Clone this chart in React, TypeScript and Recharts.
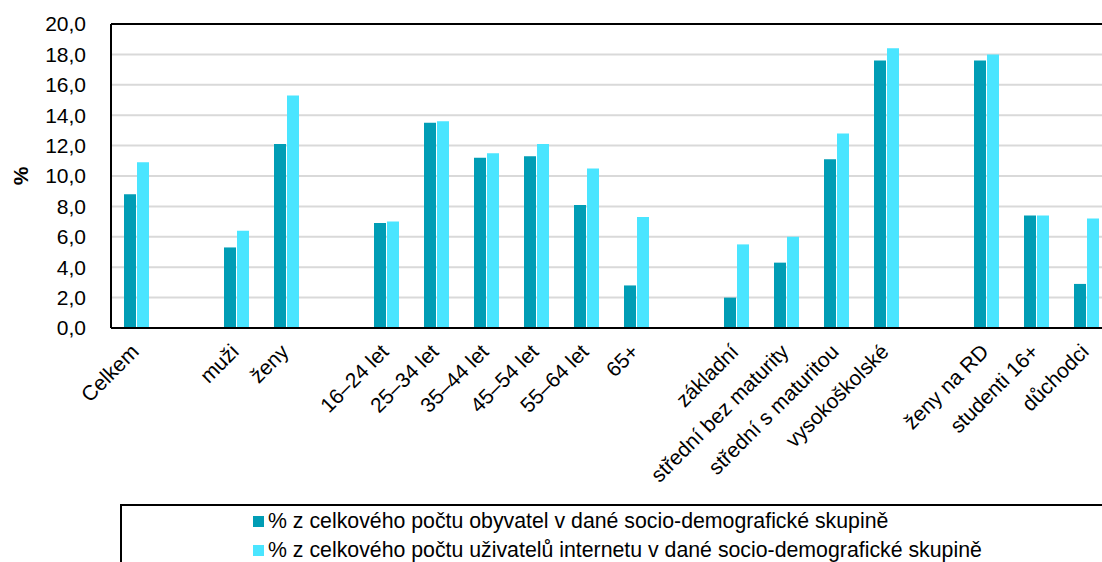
import React from 'react'
import { Bar, BarChart, CartesianGrid, ReferenceLine, XAxis, YAxis } from 'recharts'

const categories = [
  'Celkem', '', 'muži', 'ženy', '',
  '16–24 let', '25–34 let', '35–44 let', '45–54 let', '55–64 let', '65+', '',
  'základní', 'střední bez maturity', 'střední s maturitou', 'vysokoškolské', '',
  'ženy na RD', 'studenti 16+', 'důchodci',
]

const obyvatel = [
  8.8, null, 5.3, 12.1, null,
  6.9, 13.5, 11.2, 11.3, 8.1, 2.8, null,
  2.0, 4.3, 11.1, 17.6, null,
  17.6, 7.4, 2.9,
]

const uzivatele = [
  10.9, null, 6.4, 15.3, null,
  7.0, 13.6, 11.5, 12.1, 10.5, 7.3, null,
  5.5, 6.0, 12.8, 18.4, null,
  18.0, 7.4, 7.2,
]

const yTicks = [0, 2, 4, 6, 8, 10, 12, 14, 16, 18, 20]

const seriesNames = [
  '% z celkového počtu obyvatel v dané socio-demografické skupině',
  '% z celkového počtu uživatelů internetu v dané socio-demografické skupině',
]
const colors = ['#009db5', '#4ae5ff']

const font = 'Arial, "Liberation Sans", sans-serif'
const fs = 21

const data = categories.map((name, i) => ({
  key: 'c' + i,
  name,
  obyvatel: obyvatel[i],
  uzivatele: uzivatele[i],
}))

const XTick = (props: any) => {
  const { x, y, payload } = props
  const label = categories[payload.index] ?? ''
  const tx = x + 4
  const ty = y - 1
  return (
    <text
      x={tx}
      y={ty}
      textAnchor="end"
      fontSize={fs}
      fontFamily={font}
      fill="#000"
      transform={`rotate(-45 ${tx} ${ty})`}
    >
      {label}
    </text>
  )
}

const YLabel = (props: any) => {
  const vb = props.viewBox || {}
  const cx = 20
  const cy = (vb.y ?? 24) + (vb.height ?? 304) / 2
  return (
    <text
      x={cx}
      y={cy}
      textAnchor="middle"
      dominantBaseline="central"
      fontSize={fs}
      fontWeight="bold"
      fontFamily={font}
      fill="#000"
      transform={`rotate(-90 ${cx} ${cy})`}
    >
      %
    </text>
  )
}

const App = () => {
  return (
    <div style={{ position: 'fixed', left: 0, top: 0, width: 1102, height: 562, overflow: 'hidden', background: '#fff' }}>
      <BarChart
        width={1111}
        height={562}
        data={data}
        margin={{ top: 24, right: 0, left: 21, bottom: 134 }}
        barSize={12}
        barGap={1}
      >
        <CartesianGrid vertical={false} stroke="#d9d9d9" strokeWidth={2} />
        <XAxis
          dataKey="key"
          interval={0}
          tickLine={false}
          axisLine={{ stroke: '#000', strokeWidth: 2 }}
          height={100}
          tick={<XTick />}
          tickMargin={0}
          tickSize={26}
        />
        <YAxis
          domain={[0, 20]}
          ticks={yTicks}
          width={90}
          tickLine={false}
          tickSize={0}
          tickMargin={25}
          axisLine={{ stroke: '#000', strokeWidth: 2 }}
          tickFormatter={(v: number) => v.toFixed(1).replace('.', ',')}
          tick={{ fontSize: fs, fontFamily: font, fill: '#000' }}
          label={{ content: <YLabel /> }}
        />
        <ReferenceLine y={20} stroke="#000" strokeWidth={2} />
        <Bar dataKey="obyvatel" name={seriesNames[0]} fill={colors[0]} isAnimationActive={false} />
        <Bar dataKey="uzivatele" name={seriesNames[1]} fill={colors[1]} isAnimationActive={false} />
      </BarChart>
      <div
        style={{
          position: 'absolute',
          left: 120,
          top: 504,
          width: 1000,
          height: 100,
          border: '2px solid #000',
          boxSizing: 'border-box',
          fontFamily: font,
          fontSize: 21.3,
          color: '#000',
        }}
      >
        {seriesNames.map((s, i) => (
          <div
            key={s}
            style={{
              position: 'absolute',
              left: 131,
              top: 3 + i * 29,
              height: 24,
              whiteSpace: 'nowrap',
              display: 'flex',
              alignItems: 'center',
            }}
          >
            <span style={{ display: 'inline-block', width: 11, height: 11, background: colors[i], marginRight: 4 }} />
            <span>{s}</span>
          </div>
        ))}
      </div>
    </div>
  )
}

export default App
